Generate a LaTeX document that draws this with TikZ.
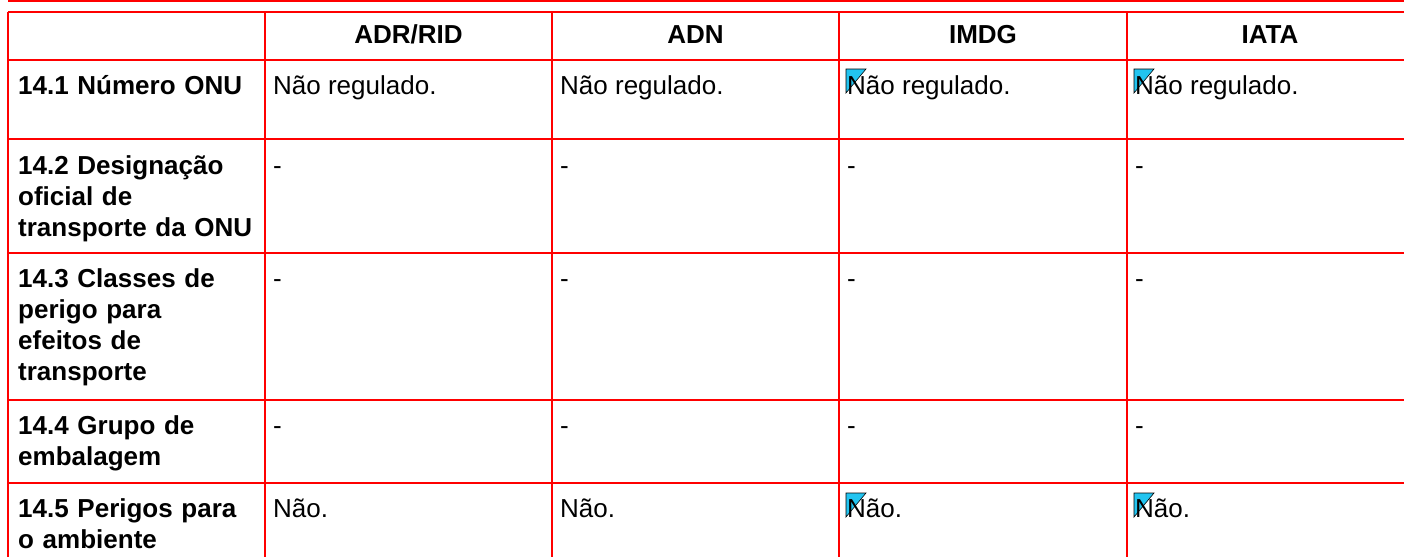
\documentclass[tikz,border=0pt]{standalone}
\usepackage{fontspec}
\setmainfont{Liberation Sans}
\usepackage{tikz}
\definecolor{rule}{HTML}{FF0000}
\definecolor{flag}{HTML}{22C4F0}
\tikzset{
  hline/.style={draw=rule, line width=1.5pt},
  vline/.style={draw=rule, line width=1.2pt},
  head/.style={anchor=base, inner sep=0pt, font=\fontsize{26}{31}\selectfont\bfseries},
  rowhead/.style={anchor=base west, inner sep=0pt, align=left, text width=245pt,
    font=\fontsize{26}{31}\selectfont\bfseries},
  cell/.style={anchor=base west, inner sep=0pt, font=\fontsize{26}{31}\selectfont},
  flagmark/.style={fill=flag, draw=black, line width=0.6pt}
}
\newcommand{\FlagAt}[2]{% x, baseline
  \filldraw[flagmark] (#1,#2-24) -- ++(20,0) -- ++(-20,24) -- cycle;
}
\begin{document}
\begin{tikzpicture}[x=1pt, y=-1pt]
  \useasboundingbox (0,0) rectangle (1404,557);
  \fill[white] (0,0) rectangle (1404,557);
  \begin{scope}
  \clip (0,0) rectangle (1404,557);
  % grid
  \draw[hline] (8,0.8) -- (1404,0.8);
  \foreach \y in {12,60,139,253,400,483}
    \draw[hline] (8,\y) -- (1404,\y);
  \foreach \x in {8,265,552,839,1127}
    \draw[vline] (\x,12) -- (\x,557);
  \end{scope}

  % header row
  \node[head] (h-adr)  at (408.5,43) {ADR/RID};
  \node[head] (h-adn)  at (695.5,43) {ADN};
  \node[head] (h-imdg) at (983,43)   {IMDG};
  \node[head] (h-iata) at (1270,43)  {IATA};

  % row labels
  \node[rowhead] (r-onu)   at (18,94)  {14.1 Número ONU};
  \node[rowhead] (r-desig) at (18,174) {14.2 Designação\\oficial de\\transporte da ONU};
  \node[rowhead] (r-class) at (18,287) {14.3 Classes de\\perigo para\\efeitos de\\transporte};
  \node[rowhead] (r-grupo) at (18,434) {14.4 Grupo de\\embalagem};
  \node[rowhead] (r-amb)   at (18,517) {14.5 Perigos para\\o ambiente};

  % markers under the IMDG / IATA entries
  \FlagAt{846}{93}
  \FlagAt{1134}{93}
  \FlagAt{846}{517}
  \FlagAt{1134}{517}

  % 14.1
  \node[cell] (c-onu-adr)  at (273,94)  {Não regulado.};
  \node[cell] (c-onu-adn)  at (560,94)  {Não regulado.};
  \node[cell] (c-onu-imdg) at (847,94)  {Não regulado.};
  \node[cell] (c-onu-iata) at (1135,94) {Não regulado.};
  % 14.2
  \node[cell] (c-desig-adr)  at (273,174)  {-};
  \node[cell] (c-desig-adn)  at (560,174)  {-};
  \node[cell] (c-desig-imdg) at (847,174)  {-};
  \node[cell] (c-desig-iata) at (1135,174) {-};
  % 14.3
  \node[cell] (c-class-adr)  at (273,287)  {-};
  \node[cell] (c-class-adn)  at (560,287)  {-};
  \node[cell] (c-class-imdg) at (847,287)  {-};
  \node[cell] (c-class-iata) at (1135,287) {-};
  % 14.4
  \node[cell] (c-grupo-adr)  at (273,434)  {-};
  \node[cell] (c-grupo-adn)  at (560,434)  {-};
  \node[cell] (c-grupo-imdg) at (847,434)  {-};
  \node[cell] (c-grupo-iata) at (1135,434) {-};
  % 14.5
  \node[cell] (c-amb-adr)  at (273,517)  {Não.};
  \node[cell] (c-amb-adn)  at (560,517)  {Não.};
  \node[cell] (c-amb-imdg) at (847,517)  {Não.};
  \node[cell] (c-amb-iata) at (1135,517) {Não.};
\end{tikzpicture}
\end{document}
